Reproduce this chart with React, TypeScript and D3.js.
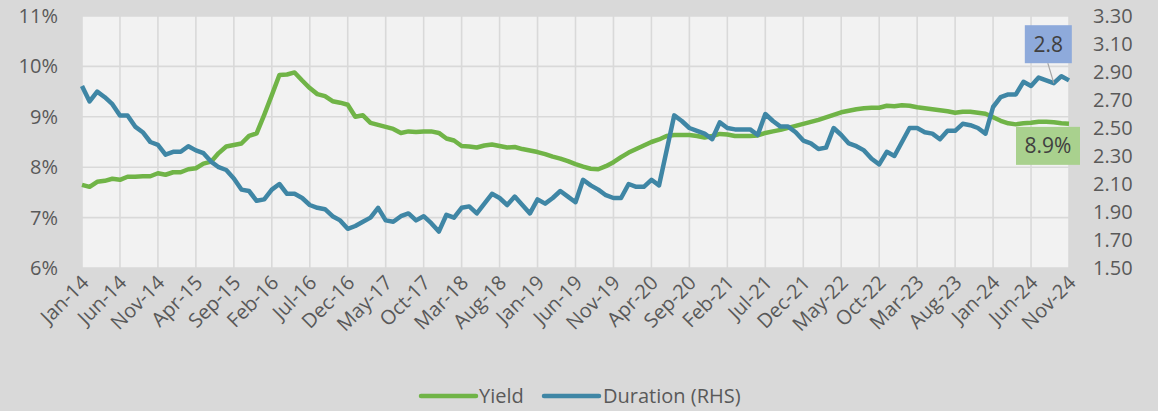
import React from 'react';
import * as d3 from 'd3';

// monthly categories Jan-14 .. Nov-24
const months = d3.timeMonth.range(new Date(2014, 0, 1), new Date(2024, 11, 1));
const fmt = d3.timeFormat('%b-%y');

const tickLabels = [
  'Jan-14', 'Jun-14', 'Nov-14', 'Apr-15', 'Sep-15', 'Feb-16', 'Jul-16', 'Dec-16',
  'May-17', 'Oct-17', 'Mar-18', 'Aug-18', 'Jan-19', 'Jun-19', 'Nov-19', 'Apr-20',
  'Sep-20', 'Feb-21', 'Jul-21', 'Dec-21', 'May-22', 'Oct-22', 'Mar-23', 'Aug-23',
  'Jan-24', 'Jun-24', 'Nov-24',
];

const yieldValues = [
  7.65, 7.61, 7.71, 7.73, 7.77, 7.75, 7.81, 7.81, 7.82, 7.82,
  7.88, 7.85, 7.90, 7.90, 7.96, 7.98, 8.07, 8.11, 8.28, 8.41,
  8.44, 8.47, 8.62, 8.67, 9.04, 9.43, 9.83, 9.84, 9.88, 9.72,
  9.57, 9.45, 9.41, 9.31, 9.28, 9.24, 9.00, 9.03, 8.88, 8.84,
  8.80, 8.76, 8.68, 8.71, 8.70, 8.71, 8.71, 8.68, 8.57, 8.53,
  8.42, 8.41, 8.39, 8.43, 8.45, 8.42, 8.39, 8.40, 8.36, 8.33,
  8.30, 8.26, 8.21, 8.17, 8.12, 8.06, 8.01, 7.97, 7.96, 8.02,
  8.10, 8.20, 8.29, 8.36, 8.43, 8.50, 8.55, 8.62, 8.64, 8.64,
  8.64, 8.62, 8.59, 8.62, 8.66, 8.65, 8.62, 8.62, 8.62, 8.63,
  8.68, 8.71, 8.74, 8.78, 8.82, 8.86, 8.90, 8.94, 8.99, 9.04,
  9.09, 9.12, 9.15, 9.17, 9.18, 9.18, 9.22, 9.21, 9.23, 9.22,
  9.19, 9.17, 9.15, 9.13, 9.11, 9.08, 9.10, 9.10, 9.08, 9.06,
  8.99, 8.92, 8.87, 8.85, 8.87, 8.88, 8.90, 8.90, 8.89, 8.87,
  8.86,
];

const durationValues = [
  2.80, 2.69, 2.76, 2.72, 2.67, 2.59, 2.59, 2.51, 2.47, 2.40,
  2.38, 2.31, 2.33, 2.33, 2.37, 2.34, 2.32, 2.26, 2.22, 2.20,
  2.14, 2.06, 2.05, 1.98, 1.99, 2.06, 2.10, 2.03, 2.03, 2.00,
  1.95, 1.93, 1.92, 1.87, 1.84, 1.78, 1.80, 1.83, 1.86, 1.93,
  1.84, 1.83, 1.87, 1.89, 1.84, 1.87, 1.82, 1.76, 1.88, 1.86,
  1.93, 1.94, 1.89, 1.96, 2.03, 2.00, 1.95, 2.01, 1.95, 1.89,
  1.99, 1.96, 2.00, 2.05, 2.01, 1.97, 2.13, 2.09, 2.06, 2.02,
  2.00, 2.00, 2.10, 2.08, 2.08, 2.13, 2.09, 2.34, 2.59, 2.55,
  2.50, 2.48, 2.46, 2.42, 2.54, 2.50, 2.49, 2.49, 2.49, 2.45,
  2.60, 2.55, 2.51, 2.51, 2.47, 2.41, 2.39, 2.35, 2.36, 2.50,
  2.45, 2.39, 2.37, 2.34, 2.28, 2.24, 2.33, 2.30, 2.40, 2.50,
  2.50, 2.47, 2.46, 2.42, 2.48, 2.48, 2.53, 2.52, 2.50, 2.46,
  2.65, 2.72, 2.74, 2.74, 2.83, 2.80, 2.86, 2.84, 2.82, 2.87,
  2.84,
];

const leftTicks = [6, 7, 8, 9, 10, 11];
const rightTicks = [1.5, 1.7, 1.9, 2.1, 2.3, 2.5, 2.7, 2.9, 3.1, 3.3];

const W = 1158;
const H = 411;
const FONT = '"Open Sans", sans-serif';
const GREEN = '#70b447';
const BLUE = '#3f86a5';
const TXT = '#595959';

export default function App() {
  const keys = months.map(fmt);
  const x = d3.scalePoint<string>().domain(keys).range([82, 1069]);
  const yL = d3.scaleLinear().domain([6, 11]).range([268, 16]);
  const yR = d3.scaleLinear().domain([1.5, 3.3]).range([268, 16]);

  const lineY = d3.line<number>().x((_, i) => x(keys[i])!).y(d => yL(d));
  const lineD = d3.line<number>().x((_, i) => x(keys[i])!).y(d => yR(d));

  const n = keys.length - 1;
  const lastYx = x(keys[n])!;
  const lastYy = yL(yieldValues[n]);
  const durIdx = n - 2;
  const durX = x(keys[durIdx])!;
  const durY = yR(durationValues[durIdx]);

  return (
    <svg width={W} height={H} style={{ position: 'absolute', left: 0, top: 0 }} fontFamily={FONT}>
      <rect width={W} height={H} fill="#d9d9d9" />
      <rect x={82} y={16} width={1069 - 82} height={252} fill="#f2f2f2" />

      {leftTicks.map(t => (
        <line key={'h' + t} x1={82} x2={1069} y1={yL(t)} y2={yL(t)} stroke="#d9d9d9" strokeWidth={1.6} />
      ))}
      {tickLabels.map(l => (
        <line key={'v' + l} x1={x(l)} x2={x(l)} y1={16} y2={268} stroke="#d9d9d9" strokeWidth={1.6} />
      ))}

      {leftTicks.map(t => (
        <text key={'lt' + t} x={58} y={yL(t)} dy="0.35em" textAnchor="end" fontSize={20} fill={TXT}>
          {t + '%'}
        </text>
      ))}
      {rightTicks.map(t => (
        <text key={'rt' + t} x={1093} y={yR(t)} dy="0.35em" textAnchor="start" fontSize={20} fill={TXT}>
          {t.toFixed(2)}
        </text>
      ))}
      {tickLabels.map(l => (
        <text
          key={'xt' + l}
          transform={`translate(${x(l)! + 8},${284}) rotate(-45)`}
          textAnchor="end"
          fontSize={20}
          fill={TXT}
        >
          {l}
        </text>
      ))}

      <path d={lineY(yieldValues) ?? ''} fill="none" stroke={GREEN} strokeWidth={4.5} strokeLinejoin="round" />
      <path d={lineD(durationValues) ?? ''} fill="none" stroke={BLUE} strokeWidth={4.5} strokeLinejoin="round" />

      {/* duration label */}
      <line x1={durX - 6} y1={durY - 20} x2={durX} y2={durY} stroke="#a6a6a6" strokeWidth={1.2} />
      <rect x={durX - 29} y={durY - 58} width={47} height={38} fill="#8eaadb" />
      <text x={durX - 5.5} y={durY - 39} dy="0.35em" textAnchor="middle" fontSize={21} fill="#404040">
        {durationValues[durIdx].toFixed(1)}
      </text>

      {/* yield label */}
      <rect x={lastYx - 53} y={lastYy + 3} width={64} height={38} fill="#a9d18e" />
      <text x={lastYx - 21} y={lastYy + 22} dy="0.35em" textAnchor="middle" fontSize={21} fill="#404040">
        {yieldValues[n].toFixed(1) + '%'}
      </text>

      {/* legend */}
      <line x1={421} x2={476} y1={396} y2={396} stroke={GREEN} strokeWidth={4.5} strokeLinecap="round" />
      <text x={479} y={396} dy="0.35em" fontSize={20} fill={TXT}>Yield</text>
      <line x1={544} x2={599} y1={396} y2={396} stroke={BLUE} strokeWidth={4.5} strokeLinecap="round" />
      <text x={603} y={396} dy="0.35em" fontSize={20} fill={TXT}>Duration (RHS)</text>
    </svg>
  );
}
